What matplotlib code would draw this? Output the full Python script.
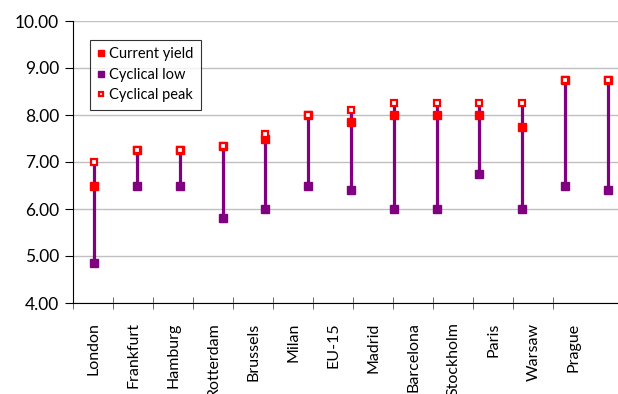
import matplotlib
matplotlib.use("Agg")
import matplotlib.pyplot as plt
import numpy as np

plt.rcParams['font.family'] = ['Lato', 'DejaVu Sans']

cities = ["London", "Frankfurt", "Hamburg", "Rotterdam", "Brussels", "Milan", "EU-15",
          "Madrid", "Barcelona", "Stockholm", "Paris", "Warsaw", "Prague"]
current_yield = [6.5, 7.25, 7.25, 7.35, 7.5, 8.0, 7.85, 8.0, 8.0, 8.0, 7.75, 8.75, 8.75]
cyclical_low = [4.85, 6.5, 6.5, 5.8, 6.0, 6.5, 6.4, 6.0, 6.0, 6.75, 6.0, 6.5, 6.4]
cyclical_peak = [7.0, 7.25, 7.25, 7.35, 7.6, 8.0, 8.1, 8.25, 8.25, 8.25, 8.25, 8.75, 8.75]

purple = "#800080"
red = "#ff0000"

fig = plt.figure(figsize=(6.18, 3.94), dpi=100)
ax = fig.add_axes([73 / 618, 91 / 394, 556 / 618, 282 / 394])

x = np.arange(len(cities))
ax.vlines(x, cyclical_low, cyclical_peak, color=purple, lw=2.3, zorder=2)
ax.plot(x, current_yield, ls="none", marker="s", ms=5.2, color=red, label="Current yield", zorder=3)
ax.plot(x, cyclical_low, ls="none", marker="s", ms=5.2, color=purple, label="Cyclical low", zorder=3)
ax.plot(x, cyclical_peak, ls="none", marker="s", ms=4.8, mfc="white", mec=red, mew=1.6,
        label="Cyclical peak", zorder=4)

ax.set_xlim(-0.5, 12.5)
ax.set_ylim(4, 10)
ax.set_yticks(np.arange(4, 10.01, 1))
ax.set_yticklabels([f"{v:.2f}" for v in np.arange(4, 10.01, 1)], fontsize=12.5)
ax.yaxis.grid(True, color="#c0c0c0", lw=1)
ax.set_axisbelow(True)

# category labels and tick marks sit on a slightly tighter spacing than the data
step = 40 / 42.8
first = -0.5 + 21 / 42.8
ax.set_xticks(first + step * x)
ax.set_xticklabels(cities, rotation=90, fontsize=11.5, va="top")
ax.set_xticks(-0.5 + step * np.arange(13), minor=True)
ax.tick_params(axis="x", which="major", length=0, pad=14)
ax.tick_params(axis="x", which="minor", length=9, direction="inout", color="#505050")
ax.tick_params(axis="y", length=6, direction="out", pad=4)

for side in ("top", "right"):
    ax.spines[side].set_visible(False)
ax.spines["left"].set_color("black")
ax.spines["bottom"].set_color("black")

leg = ax.legend(loc="upper left", bbox_to_anchor=(17 / 556, 1 - 19 / 282), fontsize=10.5,
                frameon=True, fancybox=False, edgecolor="black", handlelength=0.5,
                handletextpad=0.3, borderpad=0.5, labelspacing=0.45, markerscale=0.75,
                borderaxespad=0)
leg.get_frame().set_linewidth(0.8)

fig.savefig("out.png", dpi=100)
